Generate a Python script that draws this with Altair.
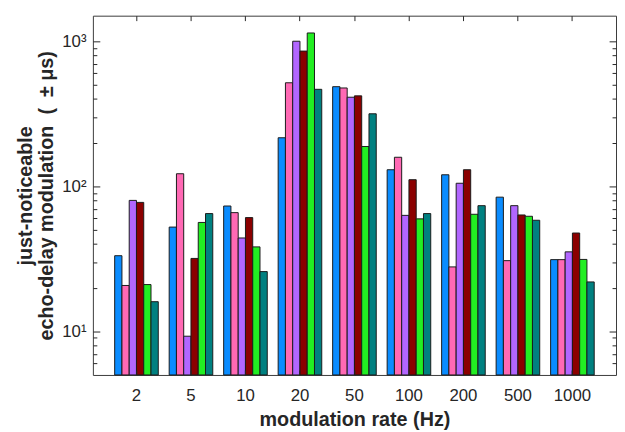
import altair as alt
import pandas as pd

rates = ["2", "5", "10", "20", "50", "100", "200", "500", "1000"]
series = ["s1", "s2", "s3", "s4", "s5", "s6"]
colors = ["#0a8cff", "#ff69b4", "#b266ff", "#8b0000", "#22ee22", "#008080"]

s1 = [33.2, 52.3, 73.1, 216, 486, 130, 120, 84.1, 31.2]
s2 = [20.7, 122, 65.8, 517, 476, 158.5, 27.8, 30.7, 31.2]
s3 = [79.9, 9.25, 44.0, 1000, 411, 63.0, 104.9, 73.5, 35.3]
s4 = [77.4, 31.8, 60.8, 855, 420, 111, 130, 63.4, 47.6]
s5 = [21.0, 56.3, 38.2, 1140, 188, 59.6, 64.1, 62.1, 31.3]
s6 = [16.0, 64.8, 25.8, 466, 316, 64.8, 73.5, 58.3, 21.9]

major_ticks = [10, 100, 1000]
minor_ticks = [6, 7, 8, 9, 20, 30, 40, 50, 60, 70, 80, 90,
               200, 300, 400, 500, 600, 700, 800, 900]

rows = []
for name, vals in zip(series, [s1, s2, s3, s4, s5, s6]):
    for r, v in zip(rates, vals):
        rows.append({"rate": r, "series": name, "value": v})
df = pd.DataFrame(rows)

FONT = "Liberation Sans"
INK = "#262626"

xscale = alt.Scale(domain=rates, paddingInner=0.2, paddingOuter=0.4)
yscale = alt.Scale(type="log", domain=[5, 1500])
xoff = alt.XOffset("series:N", sort=series,
                   scale=alt.Scale(domain=series, paddingInner=0, paddingOuter=0))


def tick_axis(orient, values, size):
    kw = dict(orient=orient, labels=False, domain=False,
              grid=False, ticks=True, tickSize=alt.ExprRef(expr=str(-size)),
              tickColor=INK, tickWidth=1, title=None, zindex=1)
    if values is not None:
        kw["values"] = values
    return alt.Axis(**kw)


def layer(xaxis, yaxis, visible=False):
    mk = alt.Chart(df).mark_bar(stroke="#1a1a1a", strokeWidth=1,
                                opacity=1 if visible else 0)
    enc = dict(
        x=alt.X("rate:N", sort=rates, scale=xscale, axis=xaxis),
        xOffset=xoff,
        y=alt.Y("value:Q", scale=yscale, axis=yaxis),
        y2=alt.Y2Datum(5),
    )
    if visible:
        enc["color"] = alt.Color("series:N", scale=alt.Scale(domain=series, range=colors),
                                 legend=None)
    return mk.encode(**enc)


y_title_2 = "echo-delay modulation\u00a0\u00a0(\u00a0\u00a0\u00b1\u00a0\u03bcs)"

x_label_axis = alt.Axis(orient="bottom", labelAngle=0, ticks=False, domain=False,
                        grid=False, labelFont=FONT, labelFontSize=17, labelColor=INK,
                        labelPadding=13, title="modulation rate (Hz)", titleFont=FONT,
                        titleFontSize=20, titleFontWeight="bold", titleColor=INK,
                        titlePadding=6)
y_label_axis = alt.Axis(orient="left", values=major_ticks, ticks=False, domain=False,
                        grid=False, labelFont=FONT, labelFontSize=17, labelColor=INK,
                        labelPadding=7,
                        labelExpr="datum.value == 10 ? '10\u00b9' : datum.value == 100 ? '10\u00b2' : '10\u00b3'",
                        title=["just-noticeable", y_title_2],
                        titleFont=FONT, titleFontSize=20, titleFontWeight="bold",
                        titleColor=INK, titlePadding=5, titleLineHeight=22)

bars = layer(x_label_axis, y_label_axis, visible=True)
l2 = layer(tick_axis("bottom", None, 5), tick_axis("left", major_ticks, 7))
l3 = layer(tick_axis("top", None, 5), tick_axis("left", minor_ticks, 4))
l4 = layer(None, tick_axis("right", major_ticks, 7))
l5 = layer(None, tick_axis("right", minor_ticks, 4))

chart = (
    alt.layer(bars, l2, l3, l4, l5)
    .resolve_axis(x="independent", y="independent")
    .properties(width=530, height=364, autosize=alt.AutoSizeParams(type="none"),
                padding={"left": 86, "top": 5, "right": 1, "bottom": 55})
    .configure_view(stroke="#3a3a3a", strokeWidth=1)
)

chart.save("out.html", embed_options={"renderer": "svg", "actions": False})
